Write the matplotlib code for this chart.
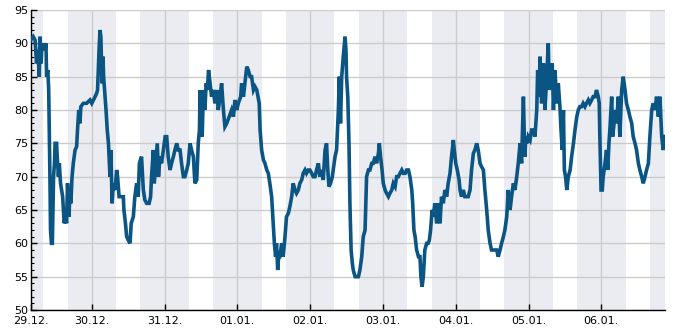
import numpy as np
import pandas as pd
import matplotlib
matplotlib.use("Agg")
import matplotlib.pyplot as plt
from matplotlib.ticker import MultipleLocator

# Messwerte: Stunden seit 29.12. 00:00 und relative Feuchte (%)
hours = [
    3.9, 4.7, 5.3, 5.8, 6.2, 6.7, 6.9, 7.3, 7.5, 8.0, 8.6, 8.9, 9.1, 9.5, 9.8,
    10.0, 10.2, 10.4, 10.7, 11.0, 11.2, 11.4, 11.7, 11.9, 12.4, 12.6, 13.0, 13.3,
    13.7, 14.4, 14.9, 15.3, 15.7, 16.0, 16.5, 16.8, 17.1, 17.5, 17.9, 18.5, 19.0,
    19.3, 19.7, 20.1, 20.4, 21.2, 22.3, 23.4, 24.0, 25.1, 25.6, 25.9, 26.4, 26.7,
    27.0, 27.4, 27.7, 27.9, 28.4, 28.7, 29.1, 29.5, 30.0, 30.3, 30.7, 31.1, 31.7,
    32.2, 32.5, 33.0, 33.5, 34.4, 34.6, 35.1, 35.5, 36.0, 36.6, 37.0, 37.7, 38.2,
    38.8, 39.3, 39.7, 40.4, 41.0, 41.5, 42.1, 42.9, 43.4, 43.7, 44.3, 44.6, 45.1,
    45.6, 46.0, 46.5, 47.0, 47.6, 48.2, 48.7, 49.2, 49.8, 50.3, 50.9, 51.4, 52.0,
    52.5, 53.1, 53.6, 54.2, 54.7, 55.3, 55.8, 56.4, 56.9, 57.5, 58.0, 58.6, 59.1,
    59.5, 59.7, 60.0, 60.4, 60.8, 61.3, 61.7, 62.1, 62.5, 63.0, 63.5, 64.1, 64.6,
    65.2, 65.7, 66.3, 66.8, 67.4, 67.9, 68.5, 69.3, 70.1, 70.7, 71.2, 71.8, 72.3,
    73.1, 73.4, 74.0, 74.5, 75.1, 75.6, 76.2, 76.7, 77.3, 77.8, 78.4, 79.2, 79.5,
    80.0, 80.6, 81.1, 81.7, 82.2, 82.7, 83.3, 83.8, 84.2, 84.6, 84.9, 85.3, 85.6,
    86.0, 86.6, 87.1, 87.7, 88.2, 88.8, 89.3, 89.9, 90.4, 91.0, 91.5, 92.1, 92.6,
    93.2, 93.7, 94.3, 94.8, 95.4, 95.9, 96.5, 97.0, 97.6, 98.1, 98.7, 99.2, 99.8,
    100.3, 100.9, 101.4, 101.8, 102.2, 102.7, 103.3, 103.6, 104.2, 104.7, 105.3,
    105.6, 106.0, 106.4, 106.9, 107.5, 107.8, 108.0, 108.4, 108.8, 109.1, 109.5,
    109.9, 110.2, 110.8, 111.3, 111.9, 112.4, 113.0, 113.5, 114.1, 114.6, 115.2,
    115.7, 116.3, 116.8, 117.4, 117.9, 118.5, 118.8, 119.2, 119.7, 120.1, 120.7,
    121.2, 121.8, 122.3, 122.9, 123.4, 124.0, 124.5, 125.1, 125.6, 126.2, 126.7,
    127.3, 127.8, 128.4, 128.9, 129.5, 129.8, 130.2, 130.6, 131.1, 131.7, 132.2,
    132.5, 132.9, 133.3, 133.8, 134.4, 134.9, 135.3, 135.7, 136.2, 136.6, 137.1,
    137.7, 138.2, 138.8, 139.3, 139.9, 140.4, 141.0, 141.5, 142.1, 142.6, 143.2,
    143.5, 144.0, 144.5, 145.1, 145.4, 145.9, 146.5, 147.0, 147.6, 148.1, 148.7,
    149.2, 149.8, 150.3, 150.9, 151.4, 152.0, 152.5, 153.1, 153.6, 154.2, 154.7,
    155.3, 155.8, 156.4, 156.9, 157.5, 158.0, 158.6, 159.1, 159.7, 160.2, 160.8,
    161.3, 161.9, 162.4, 163.0, 163.5, 164.1, 164.6, 165.2, 165.7, 166.3, 166.6,
    166.8, 167.1, 167.6, 167.9, 168.5, 169.0, 169.6, 170.1, 170.7, 171.0, 171.4,
    171.8, 172.3, 172.9, 173.4, 174.0, 174.5, 174.8, 175.4, 175.8, 176.2, 176.7,
    177.3, 177.8, 178.4, 178.7, 179.1, 179.5, 179.8, 180.2, 180.6, 181.1, 181.7,
    182.2, 182.8, 183.3, 183.9, 184.4, 184.9, 185.5, 186.0, 186.6, 187.1, 187.7,
    188.2, 188.8, 189.3, 189.9, 190.4, 191.0, 191.3, 191.5, 191.9, 192.3, 192.6,
    193.2, 193.7, 194.1, 194.5, 194.8, 195.4, 195.7, 196.2, 196.5, 197.0, 197.6,
    198.1, 198.7, 199.2, 199.8, 200.3, 200.9, 201.4, 202.0, 202.5, 203.1, 203.6,
    204.2, 204.7, 205.3, 205.8, 206.4, 206.9, 207.5, 208.0, 208.6, 209.1, 209.7,
    210.2, 210.8, 211.3, 211.9, 212.4, 213.0,
]
humidity = [
    90.5, 91, 90.5, 87, 89, 85, 91, 87, 89, 90, 89, 90, 85, 86, 83,
    77, 70, 62, 60, 60, 65, 70, 72, 75, 75, 73, 70, 72,
    69, 67, 63, 64, 63, 69, 64, 68, 66, 70, 72, 74, 74.5,
    77, 80, 78, 80.5, 81, 81, 81.5, 81, 82, 82.5, 83, 89, 92,
    91, 84, 88, 85, 82, 80, 77, 75, 70, 74, 66, 69, 68,
    71, 70, 67, 67, 67, 65, 63, 61, 60.5, 60, 63, 64, 67,
    69, 67, 72, 73, 68, 66.5, 66, 66, 67, 70, 74, 69, 72,
    75, 70, 73, 72, 74, 76, 76, 73, 71, 72, 73, 74, 75,
    74, 74, 72, 70, 70, 71, 72, 75, 74, 73, 69, 69.5, 75,
    77, 83, 79, 76, 83, 80, 84, 83, 86, 84, 82, 83, 81,
    83, 80, 82, 84, 80, 77.5, 78, 79, 80, 79, 81.5, 80, 81,
    82, 84, 82, 84, 86.5, 86, 85, 85, 83, 83.5, 83, 81, 77,
    74, 72.5, 72, 71, 70.5, 69, 67, 63, 60, 58, 60, 56, 58,
    58, 60, 58, 61, 64, 64.5, 65.5, 67, 69, 68, 67.5, 68, 69,
    69.5, 70.5, 71, 70.5, 71, 71, 70.5, 70, 70, 71, 72, 70, 71,
    69.5, 74, 75, 71, 68.5, 69, 70, 71, 73, 74, 80,
    85, 78, 85, 88, 91, 89, 85, 82, 75, 66, 59,
    57, 56, 55, 55, 55, 56, 58, 61, 62, 70, 71,
    71, 72, 72, 73, 72, 73.5, 75, 73, 71, 69, 68,
    67.5, 67, 67.5, 68, 69, 68.5, 70, 70, 70.5, 71, 70.5,
    70.5, 71, 71, 70, 68, 66, 62, 61, 59, 58, 58,
    55, 53.5, 55, 59, 60, 60, 60.5, 62, 65, 64, 66,
    63, 66, 63, 67, 66, 68, 67, 69, 70.5, 73, 75.5,
    74, 72, 71, 69.5, 68, 67, 68, 67, 67, 67, 68,
    71, 73.5, 74, 75, 74, 72, 71.5, 71, 68, 65, 62,
    60, 59, 59, 59, 59, 58, 59, 60, 61, 62, 64,
    68, 65, 67, 69, 68, 70, 72, 75, 72, 82, 76,
    73, 76, 75, 76, 75.5, 77, 77, 76, 80, 86, 82,
    88, 81, 87, 80, 85, 90, 83, 86, 87, 80, 86,
    81, 84, 80, 77, 74, 80, 71, 70, 68, 70, 71,
    73, 75, 77, 79, 80, 80.5, 80.5, 81, 80.5, 81, 81.5,
    81, 81.5, 82, 82, 83, 82, 81, 76, 68, 68, 70,
    72, 74, 71, 75, 77, 82, 76, 78, 80, 78, 82,
    76, 83, 85, 83, 81, 80, 79, 78, 76, 75, 74,
    72, 71, 70, 69, 70, 71, 72, 76, 80, 81, 80,
    82, 79, 82, 76, 74, 76,
]

start = pd.Timestamp("2018-12-29")
x_min = start + pd.Timedelta(hours=3.86)
x_max = start + pd.Timedelta(hours=213.07)
tick_days = pd.date_range("2018-12-30", "2019-01-06", freq="D")
night_start, night_end = 16, 8  # dunkle Bänder (Uhrzeit)

times = start + pd.to_timedelta(np.array(hours), unit="h")

fig = plt.figure(figsize=(6.85, 3.3), dpi=100)
ax = fig.add_axes([0.0448, 0.0606, 0.9264, 0.9091])

# Nachtbänder
for d in pd.date_range("2018-12-28", "2019-01-06", freq="D"):
    ax.axvspan(d + pd.Timedelta(hours=night_start),
               d + pd.Timedelta(hours=24 + night_end),
               color="#ebecf1", lw=0, zorder=0)

ax.plot(times, humidity, color="#0b5584", lw=2.6, solid_joinstyle="miter", zorder=3)

ax.set_xlim(x_min, x_max)
ax.set_ylim(50, 95)

ticks = [x_min] + list(tick_days)
labels = ["29.12."] + [d.strftime("%d.%m.") for d in tick_days]
ax.set_xticks(ticks)
ax.set_xticklabels(labels)
ax.yaxis.set_major_locator(MultipleLocator(5))
ax.yaxis.set_minor_locator(MultipleLocator(1))

ax.grid(True, which="major", color="#cccccc", lw=1, zorder=1)
ax.set_axisbelow(True)
ax.tick_params(axis="both", which="major", direction="in", length=4.5,
               width=1, labelsize=8, colors="black", pad=2)
ax.tick_params(axis="y", which="minor", direction="in", length=2.5, width=0.8)
ax.tick_params(axis="x", pad=4.5)

for side in ("top", "right"):
    ax.spines[side].set_visible(False)
for side in ("left", "bottom"):
    ax.spines[side].set_linewidth(1)
    ax.spines[side].set_color("black")

fig.savefig("out.png", dpi=100)
